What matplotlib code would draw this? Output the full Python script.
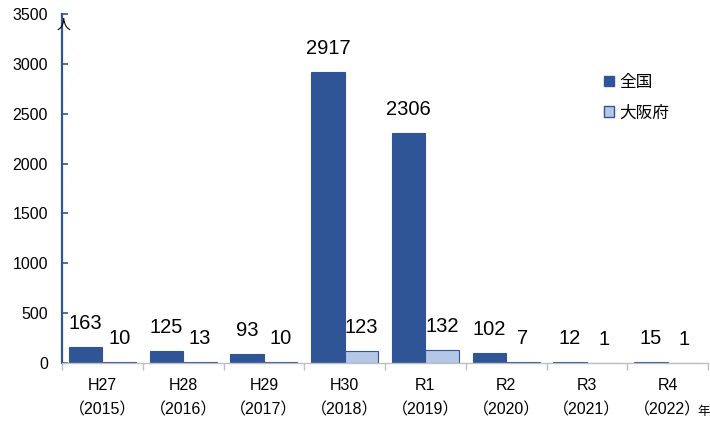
import matplotlib
matplotlib.use("Agg")
import matplotlib.pyplot as plt
import numpy as np
from matplotlib.patches import Patch

plt.rcParams['font.family'] = ['Liberation Sans', 'Noto Sans CJK JP', 'DejaVu Sans']

categories = ["H27\n（2015）", "H28\n（2016）", "H29\n（2017）", "H30\n（2018）",
              "R1\n（2019）", "R2\n（2020）", "R3\n（2021）", "R4\n（2022）"]
national = [163, 125, 93, 2917, 2306, 102, 12, 15]
osaka = [10, 13, 10, 123, 132, 7, 1, 1]
series_names = ["全国", "大阪府"]
yticks = [0, 500, 1000, 1500, 2000, 2500, 3000, 3500]

dark = "#2F5597"
light = "#B4C7E7"
edge = "#2F5597"
cjk = ['Noto Sans CJK JP', 'DejaVu Sans']

fig = plt.figure(figsize=(7.1, 4.21), dpi=100)
ax = fig.add_axes([62/710, 1-363/421, 646/710, 349/421])

x = np.arange(len(categories))
w = 0.415
ax.bar(x - w/2, national, width=w, color=dark, edgecolor=edge, linewidth=0.8)
ax.bar(x + w/2, osaka, width=w, color=light, edgecolor=edge, linewidth=0.8)

for xi, v in zip(x, national):
    ax.annotate(str(v), (xi - w/2, v), xytext=(0, 10), textcoords="offset points",
                ha="center", va="bottom", fontsize=14.5)
for xi, v in zip(x, osaka):
    ax.annotate(str(v), (xi + w/2, v), xytext=(0, 10), textcoords="offset points",
                ha="center", va="bottom", fontsize=14.5)

ax.set_xlim(-0.5, len(categories) - 0.5)
ax.set_ylim(0, 3500)
ax.set_yticks(yticks)
ax.set_yticklabels([str(t) for t in yticks], fontsize=11.5)
ax.tick_params(axis='y', direction='in', length=4, color=dark, width=1.2, pad=10)

ax.set_xticks(x)
ax.set_xticklabels(categories, fontsize=11.5, linespacing=1.75)
ax.tick_params(axis='x', length=0, pad=11)
ax.set_xticks(np.arange(len(categories) + 1) - 0.5, minor=True)
ax.tick_params(axis='x', which='minor', length=5, color="#BFBFBF", width=1)

for s in ["top", "right"]:
    ax.spines[s].set_visible(False)
ax.spines["left"].set_color(dark)
ax.spines["left"].set_linewidth(1.6)
ax.spines["bottom"].set_color("#BFBFBF")
ax.spines["bottom"].set_linewidth(1)

fig.text(63/710, 1-25/421, "人", fontsize=10, ha="center", va="center", family=cjk)
fig.text(697/710, 1-412/421, "年", fontsize=9, ha="left", va="center", family=cjk)

handles = [Patch(facecolor=dark, edgecolor=edge), Patch(facecolor=light, edgecolor=edge)]
fig.legend(handles, series_names, loc="upper left", bbox_to_anchor=(589/710, 1-59/421),
           frameon=False, prop={'family': cjk, 'size': 12}, handlelength=0.6,
           handleheight=0.6, handletextpad=0.3, labelspacing=0.8)

fig.savefig("out.png", dpi=100)
